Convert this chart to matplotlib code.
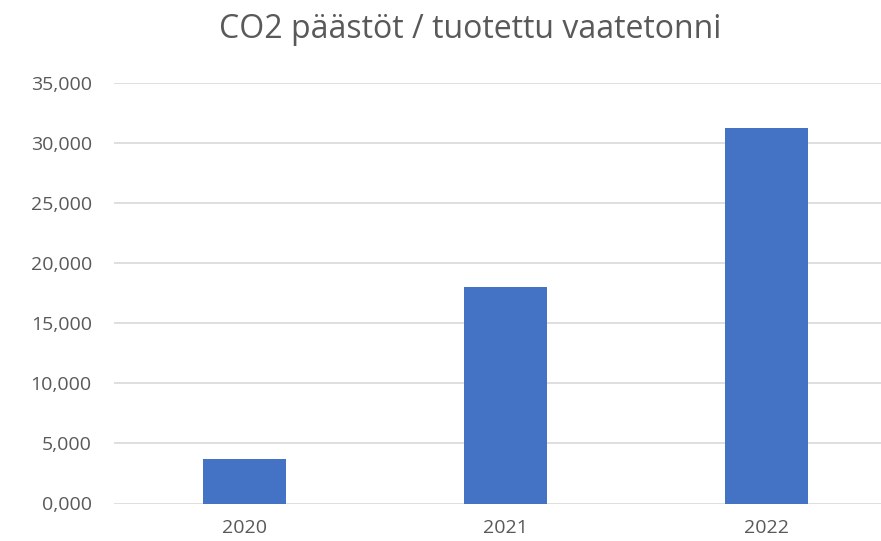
import matplotlib
matplotlib.use("Agg")
import matplotlib.pyplot as plt
from matplotlib.ticker import FuncFormatter

years = ["2020", "2021", "2022"]
co2_per_tonne = [3.68, 18.06, 31.25]

title = "CO2 päästöt / tuotettu vaatetonni"
bar_color = "#4472C4"
text_color = "#595959"
grid_color = "#D9D9D9"

plt.rcParams["font.family"] = ["Open Sans", "DejaVu Sans"]

fig = plt.figure(figsize=(8.81, 5.41), dpi=100)
ax = fig.add_axes([114 / 881, 37.5 / 541, 783 / 881, 420.2 / 541])

ax.bar(range(len(years)), co2_per_tonne, width=0.316, color=bar_color, zorder=3)

ax.set_xlim(-0.5, 2.5)
ax.set_ylim(0, 35)
ax.set_yticks(range(0, 36, 5))
ax.yaxis.set_major_formatter(FuncFormatter(lambda v, _: f"{v:.3f}".replace(".", ",")))
ax.set_xticks(range(len(years)))
ax.set_xticklabels(years)

ax.grid(axis="y", color=grid_color, linewidth=1.2, zorder=0)
for s in ax.spines.values():
    s.set_visible(False)
ax.tick_params(axis="both", length=0, colors=text_color, labelsize=14)
ax.tick_params(axis="y", pad=16)
ax.tick_params(axis="x", pad=11)

fig.text(470 / 881, 1 - 38.5 / 541, title, ha="center", va="baseline",
         fontsize=23, color=text_color)

fig.savefig("out.png", dpi=100)
